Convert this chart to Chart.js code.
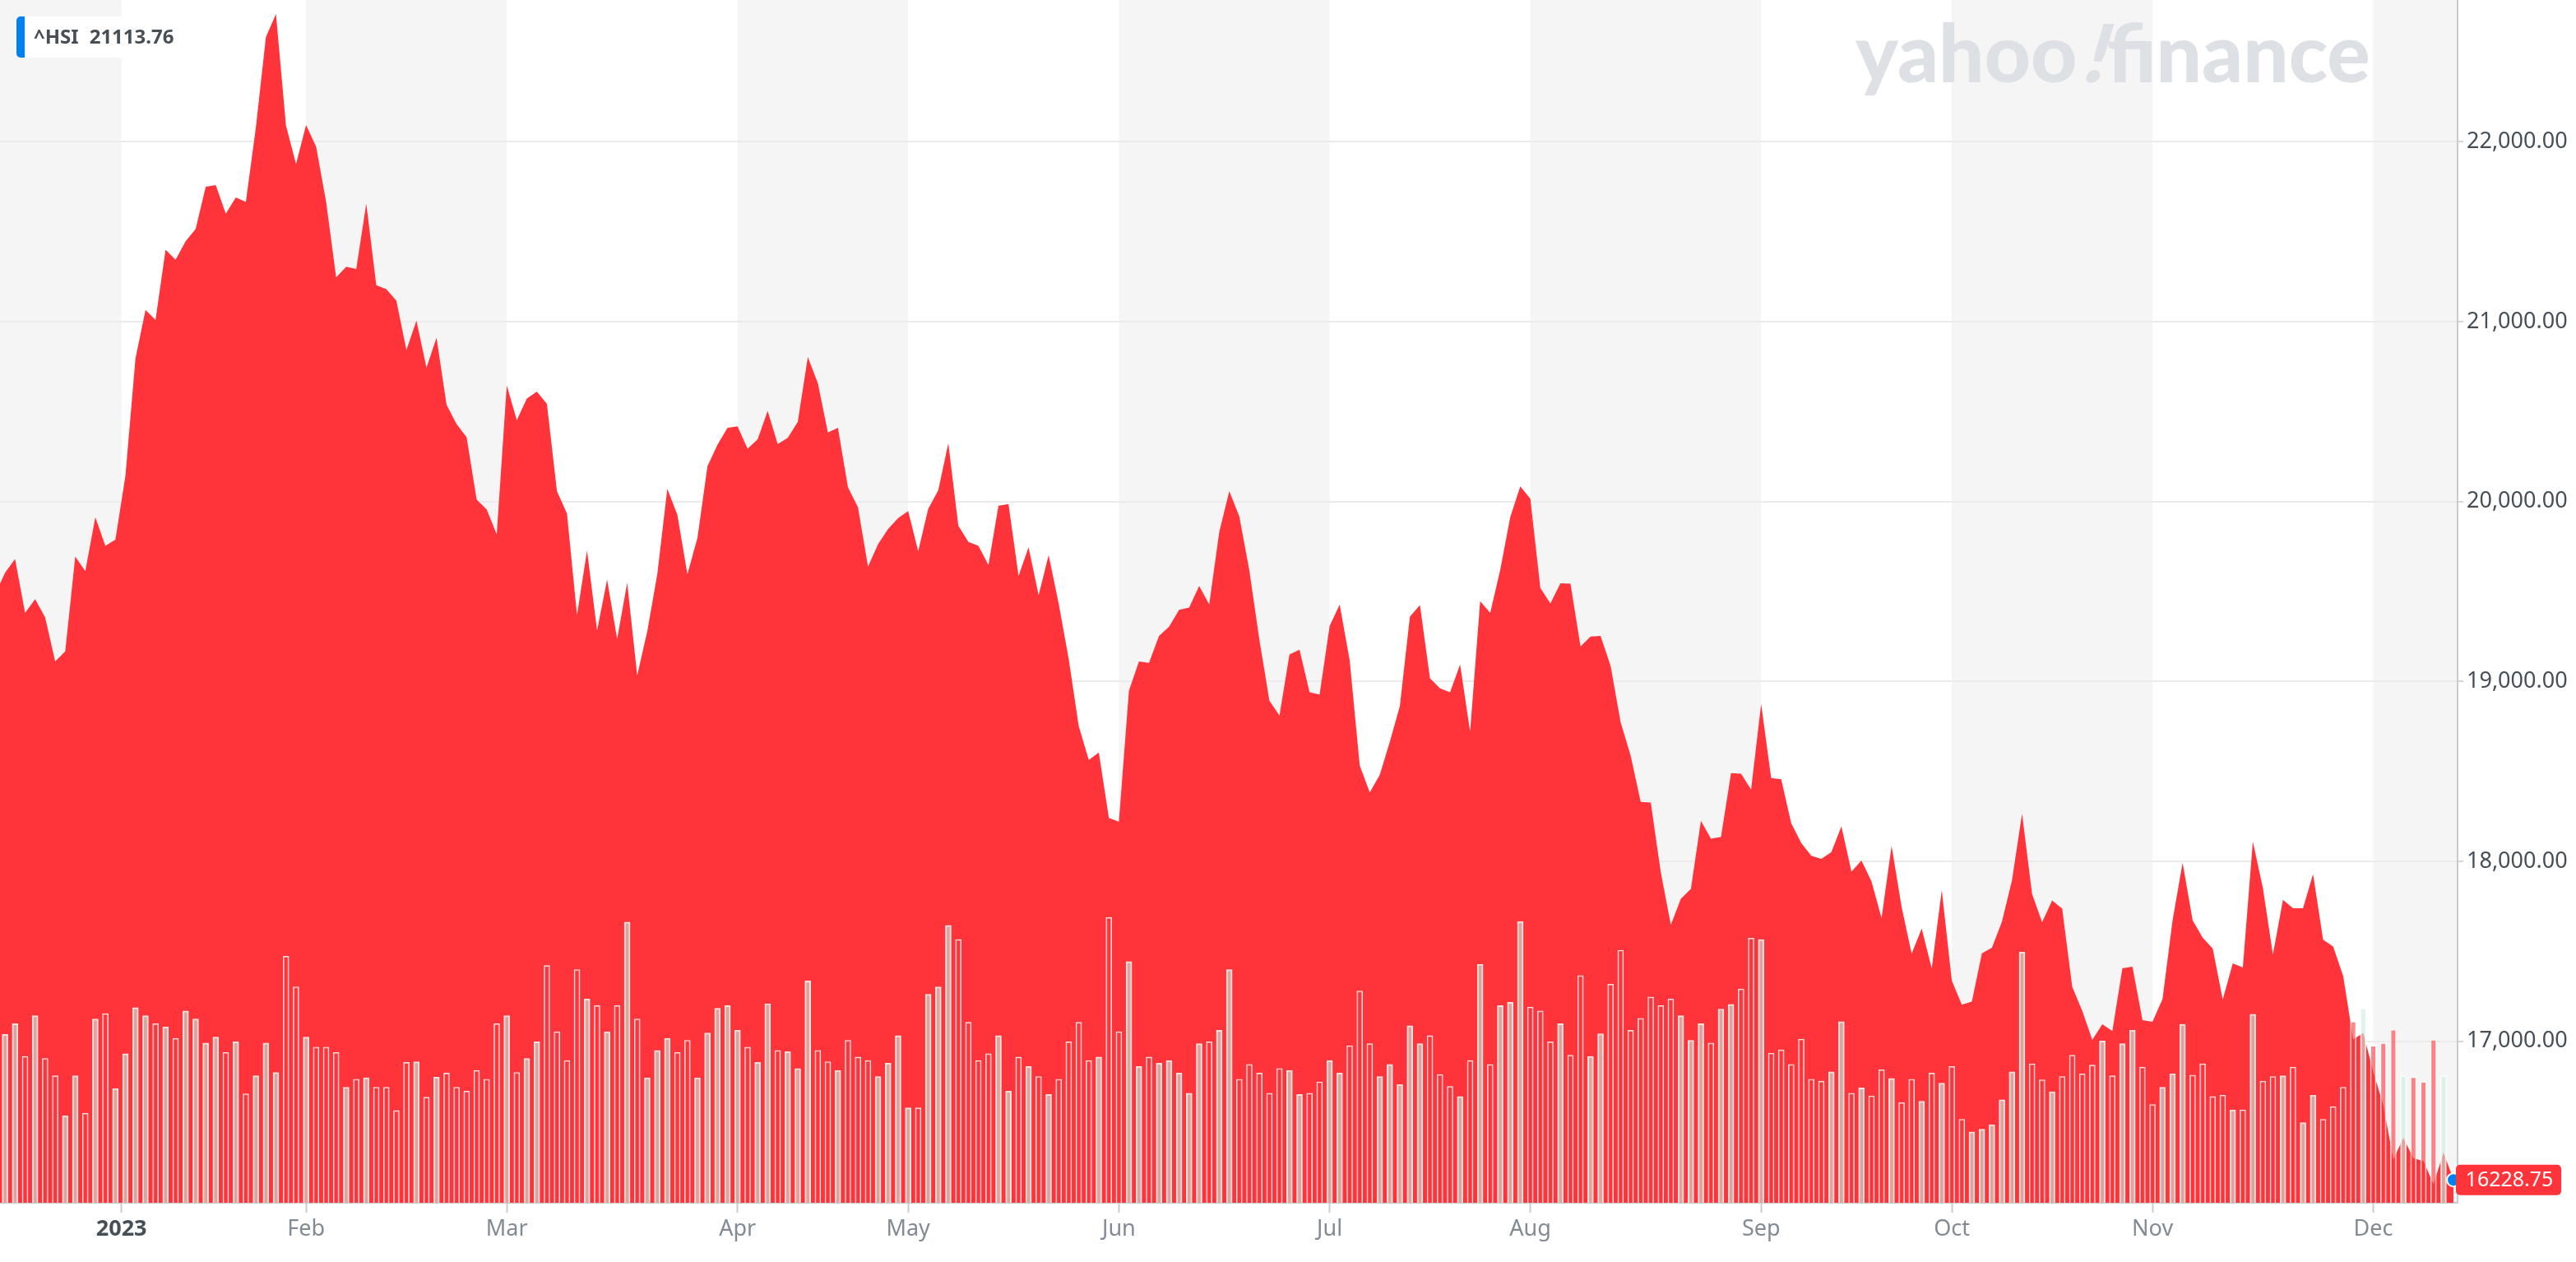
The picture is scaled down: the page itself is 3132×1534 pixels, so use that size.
<!DOCTYPE html>
<html>
<head>
<meta charset="utf-8">
<script src="https://cdn.jsdelivr.net/npm/chart.js@4.4.1/dist/chart.umd.min.js"></script>
<style>
  html, body { margin: 0; padding: 0; background: #fff; }
  canvas { display: block; }
</style>
</head>
<body>
<canvas id="myChart" width="3132" height="1534"></canvas>
<script>
// ^HSI daily closes, one per trading day (first one is only partly on screen)
const symbol = '^HSI';
const refClose = '21113.76';
const closes = [
  19484,
  19604, 19681, 19381, 19458, 19356, 19111, 19167, 19694, 19613, 19913,
  19754, 19788, 20144, 20796, 21066, 21010, 21400, 21344, 21447, 21516,
  21751, 21760, 21601, 21691, 21666, 22081, 22583, 22711, 22090, 21876,
  22094, 21974, 21666, 21246, 21306, 21293, 21657, 21203, 21181, 21117,
  20843, 21006, 20744, 20911, 20538, 20431, 20358, 20011, 19956, 19818,
  20646, 20453, 20573, 20611, 20543, 20058, 19934, 19368, 19728, 19283,
  19566, 19236, 19548, 19034, 19278, 19596, 20071, 19926, 19596, 19797,
  20196, 20316, 20410, 20418, 20294, 20346, 20504, 20320, 20354, 20444,
  20804, 20658, 20384, 20410, 20080, 19968, 19638, 19763, 19848, 19908,
  19947, 19724, 19960, 20063, 20324, 19866, 19776, 19754, 19647, 19977,
  19986, 19587, 19746, 19480, 19703, 19433, 19124, 18751, 18563, 18605,
  18241, 18220, 18948, 19111, 19103, 19253, 19304, 19398, 19411, 19531,
  19428, 19831, 20058, 19917, 19617, 19231, 18893, 18811, 19150, 19176,
  18940, 18927, 19308, 19428, 19116, 18533, 18383, 18481, 18665, 18863,
  19360, 19424, 19017, 18961, 18940, 19094, 18721, 19446, 19381, 19620,
  19914, 20084, 20016, 19519, 19434, 19546, 19543, 19195, 19250, 19253,
  19086, 18773, 18586, 18330, 18327, 17939, 17646, 17792, 17847, 18225,
  18126, 18136, 18490, 18487, 18399, 18875, 18463, 18456, 18211, 18102,
  18031, 18014, 18051, 18194, 17942, 18004, 17888, 17684, 18085, 17745,
  17486, 17626, 17404, 17840, 17336, 17203, 17220, 17489, 17520, 17665,
  17894, 18265, 17818, 17661, 17782, 17737, 17302, 17168, 17007, 17094,
  17056, 17405, 17414, 17117, 17108, 17235, 17672, 17992, 17672, 17576,
  17515, 17231, 17432, 17410, 18109, 17851, 17482, 17786, 17739, 17739,
  17929, 17564, 17526, 17363, 17010, 17046, 16830, 16645, 16342, 16463,
  16349, 16334, 16204, 16380, 16228.75
];

// volume, billions of shares
const volumes = [
  2.20,
  2.52, 2.68, 2.19, 2.80, 2.16, 1.90, 1.30, 1.90, 1.34, 2.75,
  2.83, 1.71, 2.23, 2.92, 2.80, 2.68, 2.63, 2.46, 2.87, 2.75,
  2.39, 2.48, 2.25, 2.41, 1.63, 1.90, 2.39, 1.95, 3.69, 3.23,
  2.48, 2.33, 2.33, 2.25, 1.73, 1.85, 1.87, 1.73, 1.73, 1.38,
  2.10, 2.11, 1.58, 1.88, 1.94, 1.73, 1.67, 1.98, 1.85, 2.68,
  2.80, 1.95, 2.16, 2.41, 3.55, 2.56, 2.13, 3.49, 3.05, 2.95,
  2.56, 2.95, 4.20, 2.75, 1.87, 2.28, 2.46, 2.25, 2.43, 1.87,
  2.54, 2.91, 2.95, 2.58, 2.33, 2.10, 2.98, 2.28, 2.26, 2.01,
  3.32, 2.28, 2.11, 1.98, 2.43, 2.18, 2.13, 1.89, 2.09, 2.50,
  1.42, 1.42, 3.12, 3.23, 4.15, 3.94, 2.70, 2.13, 2.23, 2.50,
  1.67, 2.18, 2.04, 1.89, 1.62, 1.85, 2.41, 2.70, 2.13, 2.18,
  4.27, 2.56, 3.61, 2.04, 2.18, 2.09, 2.13, 1.94, 1.64, 2.38,
  2.41, 2.58, 3.49, 1.85, 2.07, 1.94, 1.64, 2.01, 1.98, 1.62,
  1.64, 1.81, 2.13, 1.94, 2.35, 3.17, 2.38, 1.89, 2.07, 1.77,
  2.65, 2.38, 2.50, 1.92, 1.74, 1.59, 2.13, 3.57, 2.07, 2.95,
  3.00, 4.21, 2.93, 2.87, 2.41, 2.68, 2.21, 3.40, 2.19, 2.53,
  3.27, 3.78, 2.58, 2.76, 3.08, 2.95, 3.05, 2.80, 2.43, 2.68,
  2.39, 2.90, 2.97, 3.20, 3.96, 3.94, 2.24, 2.29, 2.07, 2.45,
  1.85, 1.82, 1.96, 2.71, 1.64, 1.72, 1.60, 1.99, 1.86, 1.50,
  1.85, 1.52, 1.94, 1.79, 2.04, 1.25, 1.06, 1.10, 1.17, 1.54,
  1.96, 3.75, 2.08, 1.84, 1.66, 1.89, 2.21, 1.93, 2.06, 2.42,
  1.90, 2.38, 2.58, 2.03, 1.47, 1.73, 1.93, 2.67, 1.91, 2.08,
  1.59, 1.61, 1.39, 1.39, 2.82, 1.82, 1.89, 1.90, 2.03, 1.20,
  1.61, 1.25, 1.44, 1.73, 2.71, 2.91, 2.35, 2.39, 2.59, 1.90,
  1.88, 1.81, 2.44, 1.90, 0
];

// month ticks, in trading-day position
const monthLabels = ['2023', 'Feb', 'Mar', 'Apr', 'May', 'Jun', 'Jul', 'Aug', 'Sep', 'Oct', 'Nov', 'Dec'];
const monthStarts = [12.6, 31, 51, 74, 91, 112, 133, 153, 176, 195, 215, 237];
const priceTicks = [17000, 18000, 19000, 20000, 21000, 22000];

const RED = '#ff333a';
const BLUE = '#0081f2';
const lastIdx = closes.length - 1;

function isUp(i) {
    return i === 0 || closes[i] >= closes[i - 1];
}

const decor = {
    id: 'decor',
    beforeDraw(chart) {
        const { ctx, chartArea: a } = chart;
        const x = chart.scales.x;
        ctx.save();
        ctx.fillStyle = '#ffffff';
        ctx.fillRect(0, 0, chart.width, chart.height);

        // month bands, grey every other month
        const edges = [x.min, ...monthStarts, x.max];
        ctx.fillStyle = '#f5f5f5';
        for (let k = 0; k < edges.length - 1; k += 2) {
            const x0 = x.getPixelForValue(edges[k]);
            const x1 = x.getPixelForValue(edges[k + 1]);
            ctx.fillRect(x0, a.top, x1 - x0, a.bottom - a.top);
        }

        // watermark
        let size = 96;
        ctx.font = '900 ' + size + 'px Lato';
        const w = ctx.measureText('yahoo').width + ctx.measureText('!').width + ctx.measureText('finance').width + 8;
        size = size * 626 / w;
        ctx.font = '900 ' + size + 'px Lato';
        ctx.fillStyle = '#dde0e4';
        ctx.textBaseline = 'alphabetic';
        let wx = 2256;
        const wy = 100;
        ctx.fillText('yahoo', wx, wy);
        wx += ctx.measureText('yahoo').width + 3;
        ctx.save();
        ctx.translate(wx, wy);
        ctx.transform(1, 0, -0.3, 1, 0, 0);
        ctx.fillText('!', 0, 0);
        ctx.restore();
        wx += ctx.measureText('!').width + 5;
        ctx.fillText('finance', wx, wy);
        ctx.restore();
    },
    afterDraw(chart) {
        const { ctx } = chart;
        const y = chart.scales.y;
        ctx.save();

        // symbol box, top left
        ctx.fillStyle = '#ffffff';
        ctx.beginPath();
        ctx.roundRect(20, 20, 198, 50, 5);
        ctx.fill();
        ctx.fillStyle = BLUE;
        ctx.beginPath();
        ctx.roundRect(20, 20, 10, 50, [5, 0, 0, 5]);
        ctx.fill();
        ctx.fillStyle = '#464e56';
        ctx.font = 'bold 24px "Noto Sans"';
        ctx.textBaseline = 'middle';
        ctx.textAlign = 'left';
        ctx.fillText(symbol, 41, 46);
        ctx.fillText(refClose, 41 + ctx.measureText(symbol).width + 13, 46);

        // last price tag
        const py = y.getPixelForValue(closes[lastIdx]);
        ctx.fillStyle = RED;
        ctx.beginPath();
        ctx.roundRect(2986, py - 18.5, 128, 37, 5);
        ctx.fill();
        ctx.fillStyle = '#ffffff';
        ctx.font = '25px "Noto Sans"';
        ctx.textAlign = 'center';
        ctx.fillText(closes[lastIdx].toFixed(2), 3051, py + 1);
        ctx.restore();
    }
};

Chart.defaults.font.family = '"Noto Sans", sans-serif';

const ctx = document.getElementById('myChart');

new Chart(ctx, {
    type: 'bar',
    data: {
        datasets: [{
            type: 'bar',
            yAxisID: 'yv',
            data: volumes.map((v, i) => ({ x: i, y: v })),
            backgroundColor: c => isUp(c.dataIndex) ? 'rgba(203, 237, 221, 0.6)' : 'rgba(255, 51, 58, 0.6)',
            borderColor: 'rgba(255, 255, 255, 0.85)',
            borderWidth: 1.3,
            barThickness: 7,
            order: 1
        }, {
            type: 'line',
            yAxisID: 'y',
            data: closes.map((v, i) => ({ x: i, y: v })),
            fill: 'start',
            backgroundColor: RED,
            borderColor: RED,
            borderWidth: 0,
            tension: 0,
            pointRadius: c => c.dataIndex === lastIdx ? 8 : 0,
            pointBackgroundColor: BLUE,
            pointBorderColor: '#ffffff',
            pointBorderWidth: 2,
            order: 2
        }]
    },
    options: {
        responsive: false,
        animation: false,
        devicePixelRatio: 1,
        events: [],
        layout: { autoPadding: false, padding: 0 },
        plugins: {
            legend: { display: false },
            tooltip: { enabled: false }
        },
        scales: {
            x: {
                type: 'linear',
                offset: false,
                min: 0.5,
                max: 245.4,
                afterBuildTicks: s => { s.ticks = monthStarts.map(v => ({ value: v })); },
                afterFit: s => { s.height = 72; s.paddingLeft = 0; s.paddingRight = 0; },
                grid: { offset: false, drawOnChartArea: false, tickLength: 12, tickColor: '#c8cbcf', tickWidth: 2 },
                border: { display: true, color: '#c8cbcf', width: 2 },
                ticks: {
                    autoSkip: false,
                    maxRotation: 0,
                    padding: 4,
                    callback: (v, i) => monthLabels[i],
                    color: c => c.index === 0 ? '#464e56' : '#828a93',
                    font: c => ({ size: 27, weight: c.index === 0 ? 'bold' : 'normal' })
                }
            },
            y: {
                position: 'right',
                min: 16101.5,
                max: 22788.8,
                afterBuildTicks: s => { s.ticks = priceTicks.map(v => ({ value: v })); },
                afterFit: s => { s.width = 144; s.paddingTop = 0; s.paddingBottom = 0; },
                grid: { color: '#ebebeb', lineWidth: 2, tickLength: 7, tickColor: '#d3d6da', tickWidth: 2 },
                border: { display: true, color: '#c8cbcf', width: 2 },
                ticks: {
                    padding: 4,
                    color: '#464e56',
                    font: { size: 27 },
                    callback: v => v.toLocaleString('en-US', { minimumFractionDigits: 2, maximumFractionDigits: 2 })
                }
            },
            yv: { display: false, min: 0, max: 18 }
        }
    },
    plugins: [decor]
});
</script>
</body>
</html>
